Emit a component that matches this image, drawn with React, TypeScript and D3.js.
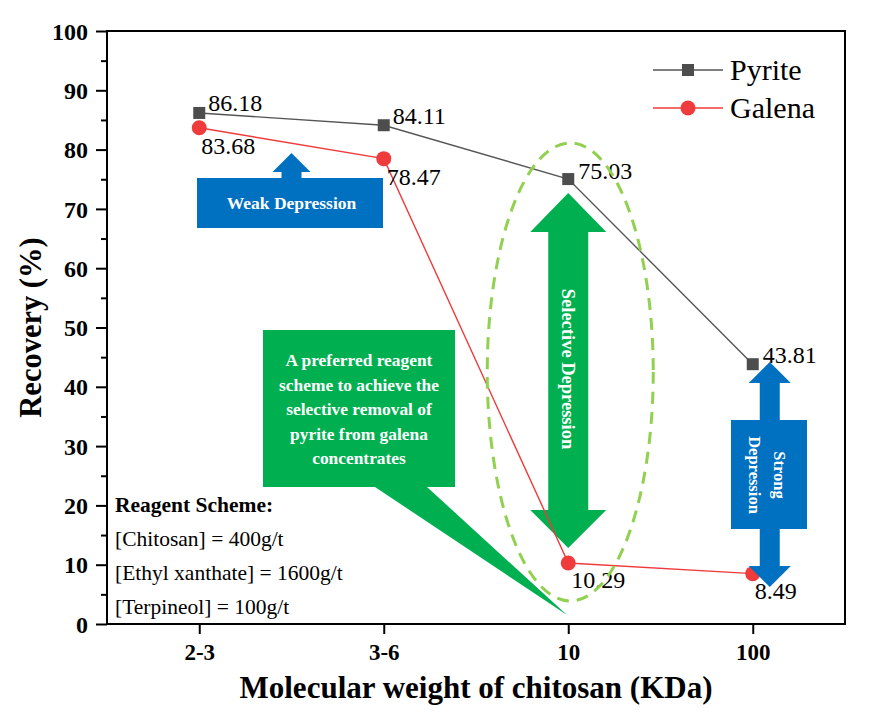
import React, { useEffect, useRef } from 'react';
import * as d3 from 'd3';

const categories = ['2-3', '3-6', '10', '100'];
const pyrite = [86.18, 84.11, 75.03, 43.81];
const galena = [83.68, 78.47, 10.29, 8.49];
const yTicks = [0, 10, 20, 30, 40, 50, 60, 70, 80, 90, 100];
const yMinorTicks = [5, 15, 25, 35, 45, 55, 65, 75, 85, 95];
const reagentLines = ['[Chitosan] = 400g/t', '[Ethyl xanthate] = 1600g/t', '[Terpineol] = 100g/t'];
const calloutLines = [
  'A preferred reagent',
  'scheme to achieve the',
  'selective removal of',
  'pyrite from galena',
  'concentrates',
];

const FONT = "'Liberation Serif', 'Times New Roman', serif";
const BLUE = '#0070c0';
const GREEN = '#00b050';
const PYRITE_COLOR = '#4d4d4d';
const GALENA_COLOR = '#ef3b3b';

const App: React.FC = () => {
  const svgRef = useRef<SVGSVGElement>(null);

  useEffect(() => {
    if (!svgRef.current) return;
    const svg = d3.select(svgRef.current);
    svg.selectAll('*').remove();

    const width = 878;
    const height = 722;
    const margin = { top: 31, right: 33, bottom: 98, left: 107 };
    const plotRight = width - margin.right;
    const plotBottom = height - margin.bottom;

    const x = d3.scalePoint<string>()
      .domain(categories)
      .range([margin.left, plotRight])
      .padding(0.5);
    const y = d3.scaleLinear().domain([0, 100]).range([plotBottom, margin.top]);

    const g = svg.append('g');

    // Frame
    g.append('rect')
      .attr('x', margin.left)
      .attr('y', margin.top)
      .attr('width', plotRight - margin.left)
      .attr('height', plotBottom - margin.top)
      .attr('fill', 'none')
      .attr('stroke', '#000')
      .attr('stroke-width', 2);

    // Y axis (major + minor)
    g.append('g')
      .attr('transform', `translate(${margin.left},0)`)
      .call(d3.axisLeft(y).tickValues(yTicks).tickSize(11).tickPadding(8).tickFormat(d3.format('d') as any))
      .call(s => s.select('.domain').remove())
      .call(s => s.selectAll('.tick line').attr('stroke', '#000').attr('stroke-width', 2))
      .call(s => s.selectAll('.tick text')
        .attr('fill', '#000')
        .attr('font-family', FONT)
        .attr('font-weight', 'bold')
        .attr('font-size', '24px')
        .attr('dy', '0.34em'));

    g.append('g')
      .attr('transform', `translate(${margin.left},0)`)
      .call(d3.axisLeft(y).tickValues(yMinorTicks).tickSize(6).tickFormat(() => ''))
      .call(s => s.select('.domain').remove())
      .call(s => s.selectAll('.tick line').attr('stroke', '#000').attr('stroke-width', 2));

    // X axis
    g.append('g')
      .attr('transform', `translate(0,${plotBottom})`)
      .call(d3.axisBottom(x).tickSize(10).tickPadding(10))
      .call(s => s.select('.domain').remove())
      .call(s => s.selectAll('.tick line').attr('stroke', '#000').attr('stroke-width', 2))
      .call(s => s.selectAll('.tick text')
        .attr('fill', '#000')
        .attr('font-family', FONT)
        .attr('font-weight', 'bold')
        .attr('font-size', '23px'));

    // Axis titles
    g.append('text')
      .attr('x', (margin.left + plotRight) / 2)
      .attr('y', 698)
      .attr('text-anchor', 'middle')
      .attr('font-family', FONT)
      .attr('font-weight', 'bold')
      .attr('font-size', '31px')
      .text('Molecular weight of chitosan (KDa)');

    g.append('text')
      .attr('transform', `translate(41,${(margin.top + plotBottom) / 2}) rotate(-90)`)
      .attr('text-anchor', 'middle')
      .attr('font-family', FONT)
      .attr('font-weight', 'bold')
      .attr('font-size', '30.5px')
      .text('Recovery (%)');

    const cx = (c: string) => x(c)!;

    // Weak depression arrow
    const wx = (cx('2-3') + cx('3-6')) / 2;
    const weak: [number, number][] = [
      [197, 178], [wx - 10, 178], [wx - 10, 172], [wx - 19, 172], [wx, 153],
      [wx + 19, 172], [wx + 10, 172], [wx + 10, 178], [383, 178], [383, 228], [197, 228],
    ];
    g.append('polygon').attr('points', weak.map(p => p.join(',')).join(' ')).attr('fill', BLUE);
    g.append('text')
      .attr('x', wx)
      .attr('y', 209)
      .attr('text-anchor', 'middle')
      .attr('fill', '#fff')
      .attr('font-family', FONT)
      .attr('font-weight', 'bold')
      .attr('font-size', '17.5px')
      .text('Weak Depression');

    // Green callout
    const callout: [number, number][] = [
      [263, 330], [455, 330], [455, 487], [427, 487], [567, 615], [375, 487], [263, 487],
    ];
    g.append('polygon').attr('points', callout.map(p => p.join(',')).join(' ')).attr('fill', GREEN);
    g.append('g')
      .selectAll('text')
      .data(calloutLines)
      .enter()
      .append('text')
      .attr('x', 359)
      .attr('y', (_, i) => 366 + i * 24.5)
      .attr('text-anchor', 'middle')
      .attr('fill', '#fff')
      .attr('font-family', FONT)
      .attr('font-weight', 'bold')
      .attr('font-size', '17.4px')
      .text(d => d);

    // Selective depression double arrow
    const sx = cx('10');
    const sel: [number, number][] = [
      [sx, 193], [sx + 38, 232], [sx + 20, 232], [sx + 20, 510], [sx + 38, 510], [sx, 548],
      [sx - 38, 510], [sx - 20, 510], [sx - 20, 232], [sx - 38, 232],
    ];
    g.append('polygon').attr('points', sel.map(p => p.join(',')).join(' ')).attr('fill', GREEN);
    g.append('text')
      .attr('transform', `translate(${sx},369) rotate(90)`)
      .attr('text-anchor', 'middle')
      .attr('dy', '0.35em')
      .attr('fill', '#fff')
      .attr('font-family', FONT)
      .attr('font-weight', 'bold')
      .attr('font-size', '18.5px')
      .text('Selective Depression');

    // Series
    const line = d3.line<number>()
      .x((_, i) => cx(categories[i]))
      .y(d => y(d));

    g.append('path')
      .datum(pyrite)
      .attr('fill', 'none')
      .attr('stroke', '#555')
      .attr('stroke-width', 1.4)
      .attr('d', line);
    g.append('path')
      .datum(galena)
      .attr('fill', 'none')
      .attr('stroke', GALENA_COLOR)
      .attr('stroke-width', 1.4)
      .attr('d', line);

    g.selectAll('.pyrite-pt')
      .data(pyrite)
      .enter()
      .append('rect')
      .attr('x', (_, i) => cx(categories[i]) - 6)
      .attr('y', d => y(d) - 6)
      .attr('width', 12)
      .attr('height', 12)
      .attr('fill', PYRITE_COLOR);
    g.selectAll('.galena-pt')
      .data(galena)
      .enter()
      .append('circle')
      .attr('cx', (_, i) => cx(categories[i]))
      .attr('cy', d => y(d))
      .attr('r', 7.5)
      .attr('fill', GALENA_COLOR);

    // Strong depression double arrow
    const tx = cx('100') + 17;
    const strong: [number, number][] = [
      [tx, 362], [tx + 21, 383], [tx + 10, 383], [tx + 10, 420], [807, 420], [807, 529],
      [tx + 10, 529], [tx + 10, 566], [tx + 21, 566], [tx, 587], [tx - 21, 566], [tx - 10, 566],
      [tx - 10, 529], [731, 529], [731, 420], [tx - 10, 420], [tx - 10, 383], [tx - 21, 383],
    ];
    g.append('polygon').attr('points', strong.map(p => p.join(',')).join(' ')).attr('fill', BLUE);
    const strongText = g.append('text')
      .attr('transform', `translate(${tx},475) rotate(90)`)
      .attr('text-anchor', 'middle')
      .attr('fill', '#fff')
      .attr('font-family', FONT)
      .attr('font-weight', 'bold')
      .attr('font-size', '16.5px');
    strongText.append('tspan').attr('x', 0).attr('y', -4).text('Strong');
    strongText.append('tspan').attr('x', 0).attr('y', 21).text('Depression');

    // Value labels
    const pyriteOffsets: [number, number][] = [[9, -2], [9, -1], [10, 0], [10, -1]];
    const galenaOffsets: [number, number][] = [[2, 26], [3, 26], [3, 25], [2, 25]];
    const labelStyle = (s: d3.Selection<SVGTextElement, number, SVGGElement, unknown>) => s
      .attr('font-family', FONT)
      .attr('font-size', '24px')
      .attr('fill', '#000');

    g.append('g').selectAll('text')
      .data(pyrite)
      .enter()
      .append('text')
      .attr('x', (_, i) => cx(categories[i]) + pyriteOffsets[i][0])
      .attr('y', (d, i) => y(d) + pyriteOffsets[i][1])
      .call(labelStyle as any)
      .text(d => d.toFixed(2));
    g.append('g').selectAll('text')
      .data(galena)
      .enter()
      .append('text')
      .attr('x', (_, i) => cx(categories[i]) + galenaOffsets[i][0])
      .attr('y', (d, i) => y(d) + galenaOffsets[i][1])
      .call(labelStyle as any)
      .text(d => d.toFixed(2));

    // Dashed ellipse
    g.append('ellipse')
      .attr('cx', sx + 2)
      .attr('cy', 372)
      .attr('rx', 83)
      .attr('ry', 229)
      .attr('fill', 'none')
      .attr('stroke', '#92d050')
      .attr('stroke-width', 3)
      .attr('stroke-dasharray', '12 8');

    // Legend
    const legend = g.append('g').attr('transform', 'translate(653,70)');
    [
      { name: 'Pyrite', color: '#555', marker: 'square' },
      { name: 'Galena', color: GALENA_COLOR, marker: 'circle' },
    ].forEach((item, i) => {
      const row = legend.append('g').attr('transform', `translate(0,${i * 38})`);
      row.append('line')
        .attr('x1', 0).attr('x2', 70)
        .attr('stroke', item.color)
        .attr('stroke-width', 1.4);
      if (item.marker === 'square') {
        row.append('rect').attr('x', 29).attr('y', -6).attr('width', 12).attr('height', 12).attr('fill', PYRITE_COLOR);
      } else {
        row.append('circle').attr('cx', 35).attr('r', 7.5).attr('fill', GALENA_COLOR);
      }
      row.append('text')
        .attr('x', 77)
        .attr('y', 10)
        .attr('font-family', FONT)
        .attr('font-size', '30px')
        .text(item.name);
    });

    // Reagent scheme note
    g.append('text')
      .attr('x', 115)
      .attr('y', 512)
      .attr('font-family', FONT)
      .attr('font-weight', 'bold')
      .attr('font-size', '21.5px')
      .text('Reagent Scheme:');
    g.append('g').selectAll('text')
      .data(reagentLines)
      .enter()
      .append('text')
      .attr('x', 115)
      .attr('y', (_, i) => 546 + i * 34)
      .attr('font-family', FONT)
      .attr('font-size', '21.5px')
      .text(d => d);
  }, []);

  return (
    <svg
      ref={svgRef}
      width={878}
      height={722}
      style={{ position: 'absolute', left: 0, top: 0, background: '#fff' }}
    />
  );
};

export default App;
